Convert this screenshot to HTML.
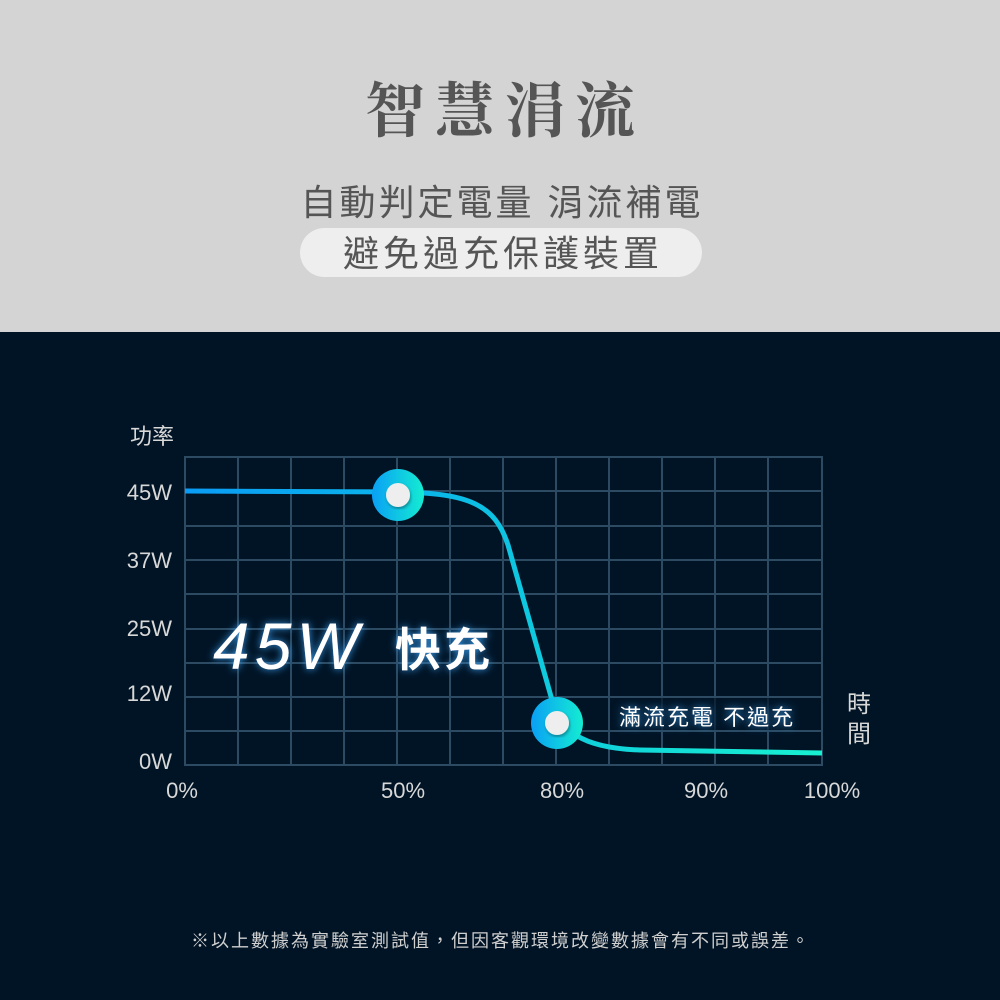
<!DOCTYPE html>
<html><head><meta charset="utf-8"><style>
html,body{margin:0;padding:0;width:1000px;height:1000px;overflow:hidden;background:#011426}
</style></head><body>
<svg width="1000" height="1000" xmlns="http://www.w3.org/2000/svg" style="display:block">
<defs>
<linearGradient id="cg" x1="0" x2="1" y1="0" y2="0"><stop offset="0" stop-color="#0aa0f5"/><stop offset="1" stop-color="#14ecd2"/></linearGradient>
<linearGradient id="lg" gradientUnits="userSpaceOnUse" x1="185" x2="822" y1="0" y2="0"><stop offset="0" stop-color="#0a9cf5"/><stop offset="0.4" stop-color="#0bb8e8"/><stop offset="0.6" stop-color="#10cfdc"/><stop offset="1" stop-color="#18f0d0"/></linearGradient>
<filter id="glow" x="-20%" y="-50%" width="140%" height="200%"><feGaussianBlur stdDeviation="4" result="b"/><feFlood flood-color="#3aa8ff" flood-opacity="0.9"/><feComposite in2="b" operator="in"/><feMerge><feMergeNode/><feMergeNode in="SourceGraphic"/></feMerge></filter>
<filter id="sh"><feDropShadow dx="1" dy="2" stdDeviation="1.5" flood-opacity="0.35"/></filter>
</defs>
<rect x="0" y="0" width="1000" height="332" fill="#d4d4d4"/>
<text x="505" y="132" text-anchor="middle" font-family="'Noto Serif CJK SC','Liberation Serif',serif" font-weight="bold" font-size="60" fill="#555" letter-spacing="10">智慧涓流</text>
<text x="502" y="215" text-anchor="middle" font-family="'Liberation Sans','Noto Sans CJK TC',sans-serif" font-size="36" fill="#555" letter-spacing="3">自動判定電量 涓流補電</text>
<rect x="300" y="228" width="402" height="49" rx="24.5" fill="#eeeeee"/>
<text x="503" y="266" text-anchor="middle" font-family="'Liberation Sans','Noto Sans CJK TC',sans-serif" font-size="36" fill="#555" letter-spacing="4">避免過充保護裝置</text>

<g stroke="#2c4a62" stroke-width="2" fill="none">
<rect x="185" y="457" width="637" height="308"/>
<path d="M238 457V765M291 457V765M344 457V765M397 457V765M450 457V765M503 457V765M556 457V765M609 457V765M662 457V765M715 457V765M768 457V765
M185 491H822M185 526H822M185 560H822M185 594H822M185 629H822M185 663H822M185 697H822M185 731H822"/>
</g>
<path d="M185 491 L398 492 C470 493 495 505 508 545 L552 700 C560 730 580 748 640 750 L822 753" stroke="url(#lg)" stroke-width="5" fill="none"/>
<circle cx="398" cy="495" r="26" fill="url(#cg)"/>
<circle cx="398" cy="495" r="12" fill="#eeeeee" filter="url(#sh)"/>
<circle cx="557" cy="723" r="26" fill="url(#cg)"/>
<circle cx="557" cy="723" r="12" fill="#eeeeee" filter="url(#sh)"/>

<g font-family="'Liberation Sans','Noto Sans CJK TC',sans-serif" fill="#d8d8d8" font-size="22">
<text x="130" y="444">功率</text>
<text x="172" y="500" text-anchor="end">45W</text>
<text x="172" y="568" text-anchor="end">37W</text>
<text x="172" y="636" text-anchor="end">25W</text>
<text x="172" y="701" text-anchor="end">12W</text>
<text x="172" y="769" text-anchor="end">0W</text>
<text x="182" y="798" text-anchor="middle">0%</text>
<text x="403" y="798" text-anchor="middle">50%</text>
<text x="562" y="798" text-anchor="middle">80%</text>
<text x="706" y="798" text-anchor="middle">90%</text>
<text x="832" y="798" text-anchor="middle">100%</text>
<text x="859" y="712" text-anchor="middle" font-size="24">時</text>
<text x="859" y="742" text-anchor="middle" font-size="24">間</text>
</g>
<rect x="612" y="698" width="200" height="32" fill="#011426" opacity="0.7"/>
<text x="619" y="725" font-family="'Liberation Sans','Noto Sans CJK TC',sans-serif" font-size="22" fill="#ffffff" letter-spacing="2" filter="url(#glow)">滿流充電 不過充</text>
<text x="213" y="669" font-family="'Liberation Sans',sans-serif" font-style="italic" font-size="66" fill="#ffffff" letter-spacing="5" filter="url(#glow)">45W</text>
<text x="395" y="666" font-family="'Noto Sans CJK TC',sans-serif" font-weight="bold" font-size="46" fill="#ffffff" letter-spacing="3" filter="url(#glow)">快充</text>
<text x="501" y="947" text-anchor="middle" font-family="'Liberation Sans','Noto Sans CJK TC',sans-serif" font-size="18" fill="#cfcfcf" letter-spacing="2">※以上數據為實驗室測試值，但因客觀環境改變數據會有不同或誤差。</text>
</svg>
</body></html>
